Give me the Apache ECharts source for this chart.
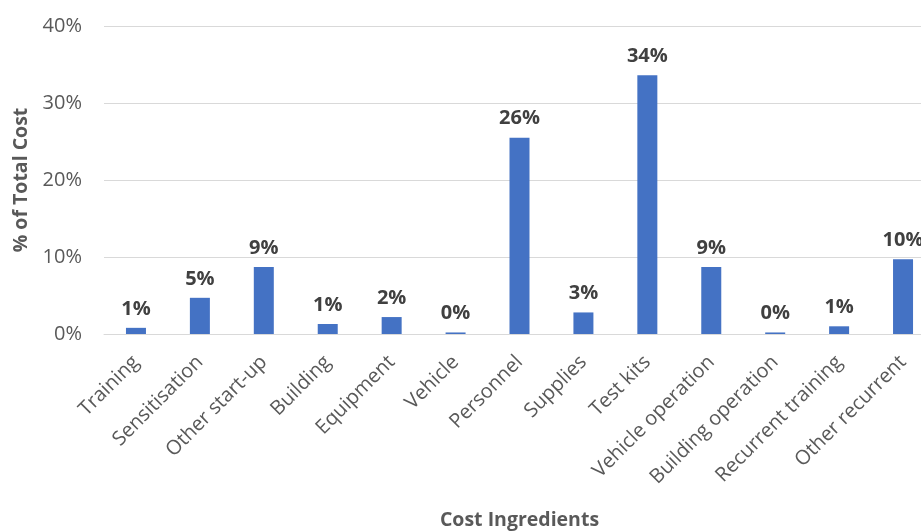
<!DOCTYPE html>
<html>
<head>
<meta charset="utf-8">
<script src="https://cdn.jsdelivr.net/npm/echarts@6/dist/echarts.min.js"></script>
<style>
  html, body { margin: 0; padding: 0; background: #fff; }
  #chart { width: 921px; height: 531px; }
</style>
</head>
<body>
<div id="chart"></div>
<script>
// Cost ingredients and their share of total cost (%)
const categories = [
  'Training', 'Sensitisation', 'Other start-up', 'Building', 'Equipment',
  'Vehicle', 'Personnel', 'Supplies', 'Test kits', 'Vehicle operation',
  'Building operation', 'Recurrent training', 'Other recurrent'
];
const shareOfCost = [0.8, 4.7, 8.7, 1.3, 2.2, 0.2, 25.5, 2.8, 33.6, 8.7, 0.2, 1.0, 9.7];
const yTicks = [0, 10, 20, 30, 40];

const FONT = '"Open Sans", "Noto Sans", sans-serif';

const chart = echarts.init(document.getElementById('chart'), null, { renderer: 'canvas' });
chart.setOption({
  animation: false,
  textStyle: { fontFamily: FONT },
  grid: {
    left: 104, right: -14, top: 26, bottom: 197,
    containLabel: false, outerBoundsMode: 'none'
  },
  xAxis: {
    type: 'category',
    data: categories,
    name: 'Cost Ingredients',
    nameLocation: 'middle',
    nameGap: 176,
    nameTextStyle: { fontFamily: FONT, fontSize: 19.5, fontWeight: 'bold', color: '#595959' },
    axisLine: { show: true, lineStyle: { color: '#D9D9D9', width: 1 } },
    axisTick: { show: false },
    axisLabel: {
      rotate: 45, interval: 0, margin: 25,
      fontFamily: FONT, fontSize: 20, color: '#595959'
    }
  },
  yAxis: {
    type: 'value',
    min: yTicks[0],
    max: yTicks[yTicks.length - 1],
    interval: 10,
    name: '% of Total Cost',
    nameLocation: 'middle',
    nameGap: 72,
    nameTextStyle: { fontFamily: FONT, fontSize: 19.5, fontWeight: 'bold', color: '#595959' },
    axisLine: { show: false },
    axisTick: { show: false },
    splitLine: { lineStyle: { color: '#D9D9D9', width: 1 } },
    axisLabel: {
      formatter: v => v + '%',
      margin: 22,
      fontFamily: FONT, fontSize: 20, color: '#595959'
    }
  },
  series: [{
    type: 'bar',
    data: shareOfCost,
    barWidth: 20,
    itemStyle: { color: '#4472C4' },
    label: {
      show: true,
      position: 'top',
      distance: 9,
      formatter: p => Math.round(p.value) + '%',
      fontFamily: FONT, fontSize: 20, fontWeight: 'bold', color: '#404040'
    }
  }]
});
</script>
</body>
</html>
